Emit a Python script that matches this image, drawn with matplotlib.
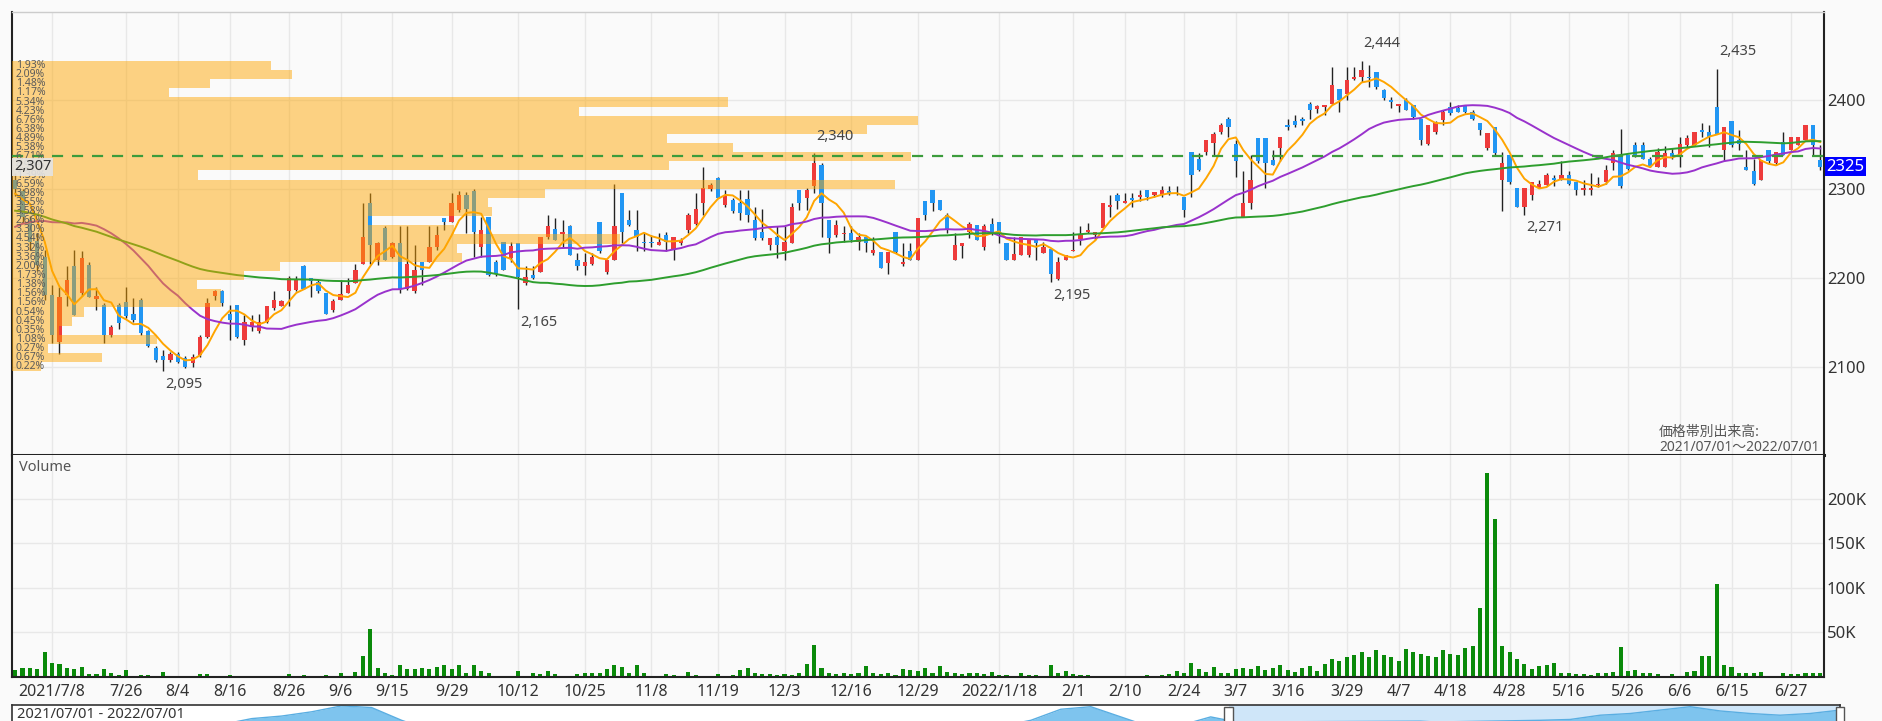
import numpy as np
import pandas as pd
import matplotlib
matplotlib.use("Agg")
import matplotlib.pyplot as plt
import matplotlib.transforms as mtransforms
from matplotlib.patches import Rectangle

plt.rcParams['font.family'] = ['Noto Sans', 'Noto Sans CJK JP', 'DejaVu Sans']

# ---------------- data ----------------
start_date, end_date = '2021-07-01', '2022-07-01'
holidays = ['2021-07-22', '2021-07-23', '2021-08-09', '2021-09-20', '2021-09-23',
            '2021-11-03', '2021-11-23', '2021-12-31', '2022-01-03', '2022-01-10',
            '2022-02-11', '2022-02-23', '2022-03-21', '2022-04-29', '2022-05-03',
            '2022-05-04', '2022-05-05']

tick_dates = ['2021-07-08', '2021-07-26', '2021-08-04', '2021-08-16', '2021-08-26', '2021-09-06',
              '2021-09-15', '2021-09-29', '2021-10-12', '2021-10-25', '2021-11-08', '2021-11-19',
              '2021-12-03', '2021-12-16', '2021-12-29', '2022-01-18', '2022-02-01', '2022-02-10',
              '2022-02-24', '2022-03-07', '2022-03-16', '2022-03-29', '2022-04-07', '2022-04-18',
              '2022-04-28', '2022-05-16', '2022-05-26', '2022-06-06', '2022-06-15', '2022-06-27']
tick_labels = ['2021/7/8', '7/26', '8/4', '8/16', '8/26', '9/6', '9/15', '9/29', '10/12', '10/25',
               '11/8', '11/19', '12/3', '12/16', '12/29', '2022/1/18', '2/1', '2/10', '2/24', '3/7',
               '3/16', '3/29', '4/7', '4/18', '4/28', '5/16', '5/26', '6/6', '6/15', '6/27']

opens = [
    2310, 2298, 2265, 2242, 2224, 2181, 2128, 2181, 2213, 2183,
    2215, 2176, 2170, 2136, 2170, 2173, 2160, 2175, 2140, 2121,
    2112, 2108, 2115, 2110, 2104, 2113, 2134, 2180, 2185, 2160,
    2170, 2130, 2146, 2140, 2151, 2166, 2168, 2185, 2186, 2213,
    2200, 2196, 2183, 2164, 2175, 2183, 2194, 2216, 2284, 2220,
    2256, 2224, 2239, 2188, 2185, 2218, 2218, 2235, 2267, 2263,
    2276, 2293, 2298, 2235, 2269, 2218, 2241, 2222, 2239, 2194,
    2203, 2207, 2246, 2255, 2250, 2258, 2220, 2214, 2216, 2263,
    2207, 2220, 2295, 2265, 2254, 2241, 2241, 2237, 2248, 2231,
    2239, 2254, 2261, 2284, 2300, 2312, 2282, 2288, 2284, 2289,
    2265, 2252, 2237, 2246, 2230, 2239, 2299, 2290, 2303, 2327,
    2265, 2248, 2249, 2250, 2241, 2246, 2228, 2229, 2217, 2252,
    2216, 2230, 2220, 2287, 2299, 2288, 2271, 2220, 2236, 2252,
    2259, 2235, 2261, 2263, 2239, 2220, 2226, 2226, 2243, 2228,
    2233, 2199, 2220, 2230, 2244, 2252, 2248, 2256, 2280, 2293,
    2284, 2290, 2291, 2299, 2293, 2293, 2298, 2296, 2291, 2342,
    2334, 2342, 2352, 2364, 2379, 2351, 2269, 2284, 2357, 2357,
    2333, 2346, 2372, 2377, 2379, 2396, 2390, 2392, 2396, 2413,
    2407, 2424, 2426, 2426, 2431, 2411, 2400, 2393, 2400, 2394,
    2379, 2351, 2364, 2378, 2392, 2391, 2393, 2387, 2374, 2346,
    2370, 2310, 2338, 2301, 2280, 2293, 2301, 2304, 2312, 2310,
    2316, 2308, 2299, 2299, 2305, 2308, 2329, 2338, 2338, 2349,
    2349, 2334, 2325, 2325, 2340, 2336, 2349, 2349, 2366, 2364,
    2392, 2344, 2377, 2355, 2325, 2320, 2310, 2344, 2329, 2353,
    2344, 2349, 2355, 2372, 2333]

highs = [
    2318, 2300, 2270, 2250, 2232, 2192, 2190, 2213, 2231, 2230,
    2218, 2190, 2172, 2147, 2172, 2190, 2178, 2178, 2142, 2123,
    2119, 2117, 2117, 2112, 2114, 2136, 2177, 2187, 2187, 2170,
    2170, 2158, 2158, 2160, 2168, 2185, 2175, 2202, 2202, 2215,
    2200, 2198, 2183, 2176, 2198, 2200, 2216, 2284, 2295, 2240,
    2258, 2240, 2258, 2258, 2237, 2218, 2258, 2258, 2267, 2295,
    2298, 2297, 2300, 2269, 2269, 2220, 2241, 2240, 2239, 2213,
    2213, 2246, 2271, 2267, 2265, 2260, 2228, 2228, 2228, 2263,
    2220, 2306, 2295, 2276, 2276, 2250, 2248, 2250, 2252, 2246,
    2245, 2273, 2295, 2325, 2307, 2314, 2299, 2290, 2299, 2299,
    2280, 2278, 2245, 2258, 2258, 2284, 2299, 2301, 2340, 2329,
    2265, 2265, 2258, 2258, 2250, 2246, 2246, 2229, 2229, 2252,
    2239, 2239, 2267, 2287, 2299, 2288, 2273, 2250, 2239, 2263,
    2259, 2261, 2267, 2263, 2239, 2246, 2246, 2243, 2243, 2241,
    2233, 2224, 2226, 2252, 2258, 2262, 2252, 2284, 2293, 2295,
    2295, 2295, 2299, 2299, 2297, 2303, 2303, 2303, 2291, 2342,
    2340, 2355, 2364, 2374, 2381, 2355, 2320, 2338, 2357, 2357,
    2344, 2359, 2379, 2383, 2381, 2398, 2394, 2394, 2437, 2413,
    2437, 2437, 2444, 2439, 2432, 2413, 2404, 2396, 2402, 2394,
    2379, 2372, 2376, 2389, 2398, 2394, 2394, 2389, 2374, 2363,
    2370, 2342, 2338, 2301, 2301, 2308, 2310, 2318, 2316, 2331,
    2320, 2308, 2310, 2318, 2314, 2327, 2344, 2368, 2338, 2353,
    2353, 2336, 2346, 2348, 2346, 2359, 2361, 2364, 2374, 2372,
    2435, 2370, 2377, 2366, 2344, 2334, 2333, 2344, 2342, 2364,
    2359, 2359, 2372, 2372, 2349]

lows = [
    2292, 2262, 2232, 2208, 2175, 2127, 2115, 2168, 2158, 2180,
    2179, 2164, 2127, 2134, 2143, 2155, 2150, 2136, 2122, 2106,
    2095, 2106, 2104, 2099, 2100, 2111, 2132, 2175, 2168, 2130,
    2132, 2125, 2140, 2138, 2149, 2164, 2168, 2168, 2185, 2188,
    2179, 2183, 2160, 2162, 2175, 2183, 2194, 2216, 2216, 2215,
    2220, 2222, 2183, 2186, 2183, 2192, 2218, 2231, 2254, 2263,
    2274, 2250, 2224, 2224, 2202, 2202, 2209, 2218, 2165, 2192,
    2199, 2207, 2244, 2243, 2235, 2226, 2209, 2203, 2215, 2228,
    2205, 2220, 2239, 2258, 2230, 2230, 2235, 2237, 2230, 2220,
    2237, 2250, 2259, 2271, 2298, 2290, 2280, 2273, 2265, 2263,
    2243, 2243, 2231, 2222, 2220, 2239, 2276, 2276, 2295, 2246,
    2228, 2246, 2241, 2241, 2231, 2229, 2226, 2211, 2205, 2228,
    2214, 2220, 2220, 2265, 2275, 2276, 2250, 2220, 2222, 2245,
    2243, 2231, 2248, 2239, 2220, 2220, 2226, 2224, 2220, 2228,
    2195, 2198, 2220, 2230, 2237, 2250, 2243, 2256, 2269, 2278,
    2284, 2280, 2287, 2288, 2291, 2291, 2293, 2293, 2269, 2291,
    2320, 2338, 2338, 2362, 2359, 2314, 2269, 2278, 2329, 2301,
    2327, 2331, 2366, 2370, 2372, 2379, 2385, 2383, 2396, 2387,
    2400, 2422, 2420, 2415, 2413, 2400, 2391, 2387, 2389, 2379,
    2350, 2349, 2362, 2372, 2383, 2387, 2385, 2378, 2361, 2344,
    2338, 2275, 2306, 2280, 2271, 2288, 2301, 2303, 2303, 2310,
    2304, 2293, 2293, 2293, 2302, 2306, 2321, 2301, 2321, 2336,
    2334, 2325, 2325, 2325, 2334, 2325, 2347, 2349, 2359, 2347,
    2362, 2331, 2347, 2344, 2321, 2304, 2310, 2329, 2327, 2338,
    2344, 2349, 2355, 2338, 2321]

closes = [
    2300, 2268, 2240, 2215, 2181, 2136, 2179, 2198, 2158, 2222,
    2179, 2180, 2136, 2145, 2149, 2157, 2153, 2138, 2123, 2108,
    2108, 2115, 2106, 2100, 2111, 2134, 2172, 2185, 2172, 2153,
    2134, 2151, 2151, 2151, 2168, 2175, 2174, 2200, 2199, 2188,
    2197, 2185, 2160, 2174, 2182, 2192, 2209, 2246, 2237, 2239,
    2220, 2239, 2188, 2216, 2209, 2209, 2235, 2248, 2263, 2284,
    2293, 2278, 2252, 2254, 2203, 2205, 2209, 2236, 2201, 2201,
    2200, 2246, 2258, 2243, 2252, 2226, 2213, 2218, 2224, 2230,
    2220, 2258, 2252, 2259, 2246, 2239, 2239, 2241, 2241, 2246,
    2243, 2271, 2278, 2301, 2305, 2290, 2293, 2275, 2273, 2271,
    2245, 2245, 2245, 2237, 2241, 2280, 2284, 2299, 2329, 2284,
    2245, 2259, 2250, 2243, 2246, 2239, 2231, 2211, 2229, 2229,
    2218, 2220, 2267, 2271, 2284, 2276, 2254, 2237, 2239, 2261,
    2243, 2258, 2250, 2250, 2220, 2227, 2246, 2243, 2239, 2235,
    2205, 2218, 2226, 2231, 2248, 2254, 2252, 2284, 2282, 2286,
    2287, 2288, 2293, 2291, 2297, 2299, 2296, 2294, 2276, 2316,
    2321, 2355, 2362, 2372, 2370, 2331, 2284, 2310, 2331, 2329,
    2327, 2359, 2370, 2372, 2377, 2389, 2393, 2394, 2417, 2400,
    2422, 2426, 2434, 2425, 2415, 2402, 2398, 2396, 2389, 2381,
    2355, 2372, 2374, 2387, 2385, 2387, 2387, 2379, 2366, 2363,
    2340, 2329, 2308, 2280, 2301, 2308, 2306, 2316, 2310, 2316,
    2306, 2299, 2301, 2301, 2306, 2321, 2340, 2303, 2323, 2338,
    2334, 2325, 2342, 2340, 2336, 2351, 2357, 2364, 2364, 2359,
    2362, 2370, 2349, 2351, 2321, 2306, 2333, 2331, 2342, 2338,
    2359, 2359, 2372, 2349, 2325]

# closes before 2021/07/01 (needed only to seed the moving averages)
pre_closes = [
    2340, 2352, 2361, 2370, 2358, 2349, 2366, 2375, 2362, 2351,
    2343, 2356, 2368, 2372, 2360, 2348, 2339, 2352, 2364, 2355,
    2346, 2338, 2351, 2344, 2335,
    2310, 2285, 2262, 2240, 2231, 2218, 2226, 2210, 2205, 2221,
    2234, 2215, 2202, 2196, 2208, 2220, 2213, 2199, 2190, 2205,
    2186, 2178, 2192, 2170, 2165, 2181, 2195, 2188, 2176, 2169,
    2184, 2198, 2190, 2205, 2212, 2224, 2235,
    2262, 2290, 2318, 2335, 2352, 2340, 2361, 2348, 2300, 2265, 2313, 2296]

volumes_k = [
    7.5, 9.7, 10.5, 9.4, 28.5, 15.7, 14.2, 10.5, 8.6, 11.6, 3.0, 3.0, 8.6, 4.1, 2.2, 7.5, 0.8, 2.2, 1.9, 0.6,
    5.6, 1.5, 1.1, 1.1, 0.6, 3.0, 3.0, 0.6, 0.8, 1.9, 0.6, 0.5, 1.1, 0.5, 0.6, 1.1, 0.5, 3.0, 0.7, 2.5,
    0.8, 0.9, 2.8, 1.0, 4.0, 1.2, 5.5, 24, 54, 10, 5.0, 2.0, 13, 9, 9, 10, 9, 11.5, 13, 9,
    14, 4.0, 14, 6.5, 4.0, 1.5, 1.2, 1.0, 6.5, 1.0, 4.0, 3.0, 6.5, 3.5, 0.8, 1.2, 3.0, 4.0, 5.0, 4.0,
    9, 13, 11.5, 4, 13, 5, 1.5, 1.2, 3.5, 2.5, 1.0, 6, 2.0, 1.2, 1.0, 3.0, 1.0, 2.0, 8, 10,
    5, 3, 3.5, 2.5, 3, 2.5, 4, 15, 36, 10, 4, 3, 5, 3.5, 4, 12, 4, 3, 5, 2,
    9, 8, 7, 10, 4, 12, 6, 4, 3, 5, 4, 3, 6, 2, 2, 1.5, 5, 2, 2, 1.5,
    13, 5, 7, 3, 2, 2.5, 1.5, 1.0, 0.8, 1.0, 1.5, 0.8, 1.2, 2.0, 1.5, 2.5, 3.0, 7, 5, 16,
    9, 6, 11, 5, 5, 9, 10, 9, 12, 8, 10, 13, 8, 6, 10, 12, 7, 15, 20, 18,
    22, 25, 28, 22, 30, 25, 23, 18, 31, 28, 26, 24, 22, 30, 26, 25, 33, 35, 77, 229,
    177, 35, 28, 20, 15, 9, 12, 14, 16, 5, 4, 3, 3, 2, 4, 5, 6, 34, 7, 8,
    5, 4, 3, 1, 3, 0.8, 6, 7, 24, 24, 104, 14, 11, 4, 4, 5, 6, 1, 1, 5,
    3, 3, 4, 5, 5]

# price-band volume (価格帯別出来高), top bin first, in percent
profile_pct = [1.93, 2.09, 1.48, 1.17, 5.34, 4.23, 6.76, 6.38, 4.89, 5.38,
               6.71, 4.90, 1.39, 6.59, 3.98, 3.55, 3.58, 2.66, 3.30, 4.54,
               3.32, 3.36, 2.00, 1.73, 1.38, 1.56, 1.56, 0.54, 0.45, 0.35,
               1.08, 0.27, 0.67, 0.22]

ma_periods = [5, 25, 75]
last_price = 2325
ref_line_price = 2337
cursor_label = '2,307'
extreme_idx = [20, 68, 108, 140, 182, 204, 230]
extreme_kind = ['low', 'low', 'high', 'low', 'high', 'low', 'high']

# navigator (long-history overview) heights, relative scale
nav_vals = [55, 58, 62, 60, 64, 68, 72, 77, 84, 87, 92, 99, 97, 82, 70, 66, 62, 65, 60, 58,
            62, 60, 57, 55, 58, 61, 64, 60, 62, 66, 63, 68, 72, 75, 82, 95, 98, 86, 74, 76,
            86, 79, 75, 80, 78, 77, 80, 81, 79, 78, 80, 82, 83, 88, 90, 94, 98, 93, 90, 88,
            90, 94]
nav_sel = [40.6, 61.0]
nav_text = '2021/07/01 - 2022/07/01'

# ---------------- figure ----------------
W, H = 1883, 721
BG = '#FAFAFA'
fig = plt.figure(figsize=(W / 100, H / 100), dpi=100, facecolor=BG)


def box(x0, y0, x1, y1):
    return [x0 / W, 1 - y1 / H, (x1 - x0) / W, (y1 - y0) / H]


ax = fig.add_axes(box(12, 12, 1824, 455), facecolor=BG)
axv = fig.add_axes(box(12, 455, 1824, 677), facecolor=BG)
axn = fig.add_axes(box(12, 705, 1840, 790), facecolor='white')

n = len(closes)
x = np.arange(n)
o, h, l, c = (np.array(v, dtype=float) for v in (opens, highs, lows, closes))
dates = pd.bdate_range(start_date, end_date, freq='C', holidays=holidays)
tick_pos = [dates.get_loc(pd.Timestamp(d)) for d in tick_dates]

UP, DOWN = '#EE3B3B', '#2196F3'
up = c >= o
colors = np.where(up, UP, DOWN)
ax.vlines(x, l, h, color='#222222', lw=1.0, zorder=2)
ax.bar(x, np.maximum(np.abs(c - o), 0.9), bottom=np.minimum(o, c), width=0.58,
       color=colors, linewidth=0, zorder=2.5)

allc = pd.Series(pre_closes + closes, dtype=float)
ma_colors = ['#FFA500', '#9932CC', '#2E9E2E']
for p, col in zip(ma_periods, ma_colors):
    ma = allc.rolling(p).mean().values[-n:]
    ax.plot(x, ma, color=col, lw=1.4, zorder=3)

xmin, xmax = -0.42, 244.5
ymin, ymax = 2001, 2499
ax.set_xlim(xmin, xmax)
ax.set_ylim(ymin, ymax)

# price-band volume profile
trans = mtransforms.blended_transform_factory(ax.transAxes, ax.transData)
top, bot = max(highs), min(lows)
nb = len(profile_pct)
binh = (top - bot) / nb
px_per_pct = 134.0
axis_w_px = 1812.0
for k, pct in enumerate(profile_pct):
    yb = top - (k + 1) * binh
    ax.add_patch(Rectangle((0, yb), pct * px_per_pct / axis_w_px, binh, transform=trans,
                           facecolor='#FFA500', alpha=0.48, linewidth=0, zorder=4))
    ax.text(0.002, yb + binh / 2, f'{pct:.2f}%', transform=trans, fontsize=7.5,
            color='#5a5a5a', va='center', ha='left', zorder=6)

ax.axhline(ref_line_price, color='#3C9C3C', lw=1.6, ls=(0, (5, 4)), zorder=5)
ax.text(0.001, last_price, cursor_label, transform=trans, fontsize=10.5, color='#333333',
        va='center', ha='left', zorder=7,
        bbox=dict(boxstyle='square,pad=0.12', fc='#E4E4E4', ec='none', alpha=0.9))

for i, kind in zip(extreme_idx, extreme_kind):
    if kind == 'high':
        ax.annotate(f'{highs[i]:,}', xy=(i, highs[i]), xytext=(1.5, 7), textcoords='offset points',
                    ha='left', va='bottom', fontsize=10.5, color='#444444', zorder=8)
    else:
        ax.annotate(f'{lows[i]:,}', xy=(i, lows[i]), xytext=(1.5, -4), textcoords='offset points',
                    ha='left', va='top', fontsize=10.5, color='#444444', zorder=8)

ax.text(0.909, 0.050, '価格帯別出来高:', transform=ax.transAxes, fontsize=10, color='#555555',
        ha='left', va='center', zorder=8)
ax.text(0.909, 0.016, '2021/07/01～2022/07/01', transform=ax.transAxes, fontsize=10,
        color='#555555', ha='left', va='center', zorder=8)

# right price label
ax.text(1.0012, last_price, str(last_price), transform=trans, color='white', fontsize=12,
        va='center', ha='left', zorder=10, clip_on=False,
        bbox=dict(boxstyle='square,pad=0.1', fc='#0000FF', ec='none'))

ax.yaxis.tick_right()
ax.set_yticks([2100, 2200, 2300, 2400])
ax.tick_params(axis='y', length=0, pad=2, labelsize=12, labelcolor='#333333')
ax.set_xticks(tick_pos)
ax.tick_params(axis='x', length=0, labelbottom=False)
ax.grid(True, color='#E8E8E8', lw=1, zorder=0)
ax.set_axisbelow(True)
for s in ['left', 'right']:
    ax.spines[s].set_color('#222222')
    ax.spines[s].set_linewidth(1.5)
ax.spines['bottom'].set_color('#222222')
ax.spines['bottom'].set_linewidth(2.2)
ax.spines['top'].set_color('#CCCCCC')
ax.spines['top'].set_linewidth(1)

# volume panel
vol = np.array(volumes_k) * 1000
axv.bar(x, vol, width=0.55, color='#0A8A0A', linewidth=0, zorder=2)
axv.set_xlim(xmin, xmax)
axv.set_ylim(0, 249400)
axv.yaxis.tick_right()
axv.set_yticks([50000, 100000, 150000, 200000])
axv.set_yticklabels([f'{int(v / 1000)}K' for v in [50000, 100000, 150000, 200000]])
axv.tick_params(axis='y', length=0, pad=2, labelsize=12, labelcolor='#333333')
axv.set_xticks(tick_pos)
axv.set_xticklabels(tick_labels)
axv.tick_params(axis='x', length=0, pad=5, labelsize=11.5, labelcolor='#333333')
axv.grid(True, color='#E8E8E8', lw=1, zorder=0)
axv.set_axisbelow(True)
for s in ['left', 'right', 'bottom']:
    axv.spines[s].set_color('#222222')
    axv.spines[s].set_linewidth(1.5)
axv.spines['top'].set_visible(False)
axv.text(0.004, 0.945, 'Volume', transform=axv.transAxes, fontsize=10.5, color='#555555',
         ha='left', va='center')

# navigator
xn = np.arange(len(nav_vals))
axn.set_xlim(0, len(nav_vals) - 1)
axn.set_ylim(0, 100)
axn.axvspan(nav_sel[0], nav_sel[1], color='#CFE6F9', zorder=0, lw=0)
axn.fill_between(xn, nav_vals, 0, color='#7EC4EE', lw=0, zorder=1)
axn.plot(xn, nav_vals, color='#5AAEE2', lw=1, zorder=2)
ntrans = mtransforms.blended_transform_factory(axn.transData, axn.transAxes)
for xs in nav_sel:
    axn.add_patch(Rectangle((xs - 0.14, 0.78), 0.28, 0.2, transform=ntrans, facecolor='white',
                            edgecolor='#555555', lw=1, zorder=5, clip_on=False))
axn.text(0.003, 0.894, nav_text, transform=axn.transAxes, fontsize=10.5, color='#333333',
         ha='left', va='center', zorder=6)
axn.set_xticks([])
axn.set_yticks([])
for s in ['left', 'right', 'top']:
    axn.spines[s].set_color('#333333')
    axn.spines[s].set_linewidth(1.2)

fig.savefig('out.png', dpi=100, facecolor=BG)
